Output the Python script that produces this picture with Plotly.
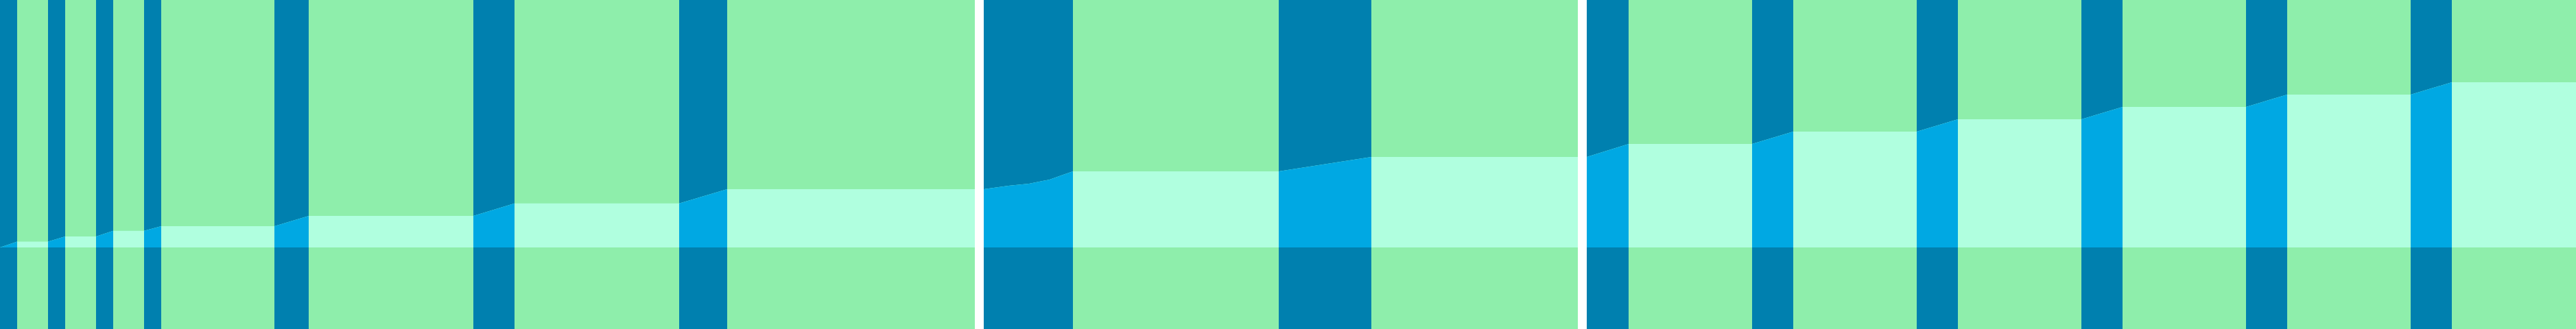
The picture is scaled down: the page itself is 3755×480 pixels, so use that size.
import plotly.graph_objs as go

# colours
GREEN = "#8EEEAB"
BLUE = "#0080AF"
AREA_LIGHT = "#B0FFDF"
AREA_BLUE = "#00A8E3"

# three panels (x ranges), separated by thin white gaps
panel_ranges = [(0, 1421), (1434, 2300), (2313, 3755)]

# transition (blue) and steady (green) phases
blue_bands = [
    (0, 25), (70, 95), (140, 165), (210, 235), (400, 450), (690, 750), (990, 1060),
    (1434, 1564), (1864, 1999),
    (2313, 2374), (2554, 2614), (2794, 2854), (3034, 3094), (3274, 3334), (3514, 3574),
]
green_bands = [
    (25, 70), (95, 140), (165, 210), (235, 400), (450, 690), (750, 990), (1060, 1421),
    (1564, 1864), (1999, 2300),
    (2374, 2554), (2614, 2794), (2854, 3034), (3094, 3274), (3334, 3514), (3574, 3755),
]

# cumulative level per panel
area_x = [
    [0, 25, 70, 95, 140, 165, 210, 235, 400, 450, 690, 750, 990, 1060, 1421],
    [1434, 1470, 1500, 1530, 1564, 1864, 1999, 2300],
    [2313, 2374, 2554, 2614, 2794, 2854, 3034, 3094, 3274, 3334, 3514, 3574, 3755],
]
area_y = [
    [0, 3.5, 3.5, 6.6, 6.6, 10.0, 10.0, 12.9, 12.9, 19.1, 19.1, 26.6, 26.6, 35.3, 35.3],
    [35.3, 37.3, 38.6, 41.1, 46.1, 46.1, 54.8, 54.8],
    [54.8, 62.7, 62.7, 70.1, 70.1, 77.6, 77.6, 85.1, 85.1, 92.5, 92.5, 100.0, 100.0],
]

Y_MIN, Y_MAX = -49.4, 149.8
W, H = 3755, 480


def panel_of(x0, x1):
    for i, (a, b) in enumerate(panel_ranges):
        if x0 >= a and x1 <= b:
            return i
    return 0


def axis_name(i):
    return "x" if i == 0 else f"x{i + 1}"


fig = go.Figure()

# background bands
for bands, color in [(green_bands, GREEN), (blue_bands, BLUE)]:
    for i in range(len(panel_ranges)):
        sel = [(a, b) for a, b in bands if panel_of(a, b) == i]
        fig.add_trace(
            go.Bar(
                x=[(a + b) / 2 for a, b in sel],
                width=[b - a for a, b in sel],
                y=[Y_MAX - Y_MIN] * len(sel),
                base=[Y_MIN] * len(sel),
                marker=dict(color=color, line=dict(width=0)),
                xaxis=axis_name(i),
                yaxis="y",
                hoverinfo="skip",
                showlegend=False,
            )
        )

# cumulative area
for i in range(len(panel_ranges)):
    fig.add_trace(
        go.Scatter(
            x=area_x[i],
            y=area_y[i],
            mode="lines",
            fill="tozeroy",
            fillcolor=AREA_LIGHT,
            line=dict(width=0),
            xaxis=axis_name(i),
            yaxis="y",
            hoverinfo="skip",
            showlegend=False,
        )
    )

# area inside transition bands
for a, b in blue_bands:
    i = panel_of(a, b)
    pts = [(x, y) for x, y in zip(area_x[i], area_y[i]) if a <= x <= b]
    xs = [a] + [p[0] for p in pts] + [b]
    ys = [0] + [p[1] for p in pts] + [0]
    fig.add_trace(
        go.Scatter(
            x=xs,
            y=ys,
            mode="lines",
            fill="toself",
            fillcolor=AREA_BLUE,
            line=dict(width=0),
            xaxis=axis_name(i),
            yaxis="y",
            hoverinfo="skip",
            showlegend=False,
        )
    )

hidden = dict(showgrid=False, zeroline=False, showticklabels=False, showline=False, ticks="")
layout = dict(
    width=W,
    height=H,
    margin=dict(l=0, r=0, t=0, b=0),
    paper_bgcolor="white",
    plot_bgcolor="white",
    barmode="overlay",
    bargap=0,
    showlegend=False,
    yaxis=dict(range=[Y_MIN, Y_MAX], fixedrange=True, **hidden),
)
for i, (a, b) in enumerate(panel_ranges):
    key = "xaxis" if i == 0 else f"xaxis{i + 1}"
    layout[key] = dict(
        range=[a, b],
        domain=[a / W, b / W],
        anchor="y",
        **hidden,
    )
fig.update_layout(**layout)

# page body has a default margin; drop it so the chart fills the window
fig.write_html(
    "out.html",
    config=dict(displayModeBar=False),
    post_script="document.body.style.margin='0';",
)
